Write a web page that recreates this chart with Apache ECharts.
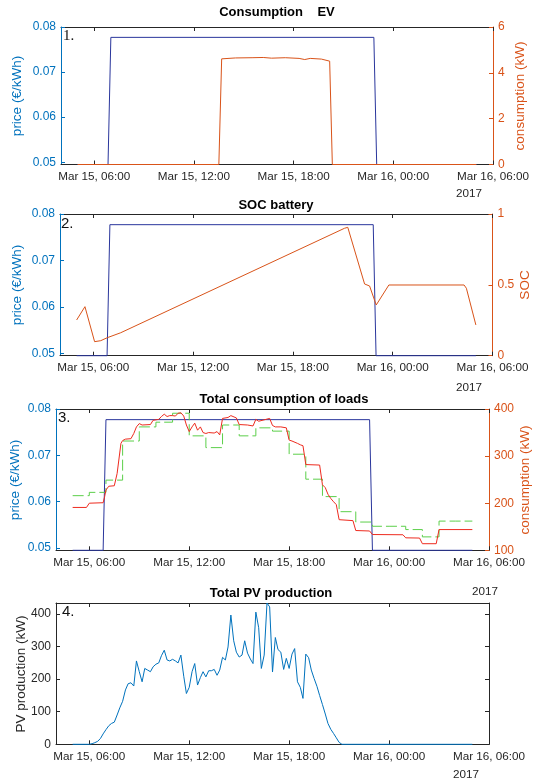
<!DOCTYPE html>
<html><head><meta charset="utf-8">
<script src="https://cdn.jsdelivr.net/npm/echarts@6/dist/echarts.min.js"></script>
<style>html,body{margin:0;padding:0;background:#fff}#c{width:534px;height:782px}</style>
</head><body><div id="c"></div>
<script>
// ---- data (hours counted from Mar 15 00:00) ----
const xTicks = [6, 12, 18, 24, 30];
const priceTicks = [0.05, 0.06, 0.07, 0.08];
const pvTicks = [0, 100, 200, 300, 400];

const priceTimes  = [5, 6.83, 7, 22.83, 23, 29];
const priceValues = [0.0495, 0.0495, 0.0777, 0.0777, 0.0495, 0.0495];

const evTimes  = [5, 13.5, 13.67, 14.5, 15.5, 16.17, 16.67, 17.5, 18.33, 18.67, 19.0, 19.67, 20.17, 20.33, 29];
const evValues = [0, 0, 4.61, 4.65, 4.66, 4.67, 4.64, 4.66, 4.63, 4.58, 4.63, 4.60, 4.51, 0, 0];

const socTimes  = [5, 5.5, 6.08, 6.45, 6.84, 7.65, 21.1, 21.3, 22.31, 22.61, 23.01, 23.77, 28.29, 28.43, 29];
const socValues = [0.252, 0.346, 0.099, 0.106, 0.127, 0.162, 0.899, 0.906, 0.506, 0.492, 0.358, 0.499, 0.499, 0.476, 0.217];

const loadForecastHours  = [5, 6, 7, 8, 9, 10, 11, 12, 13, 14, 15, 16, 17, 18, 19, 20, 21, 22, 23, 24, 25, 26, 27, 28, 29];
const loadForecastValues = [216, 223, 249, 332, 362, 372, 391, 343, 318, 366, 343, 360, 353, 304, 251, 214, 182, 160, 151, 151, 144, 128.5, 162, 162, 162];

const loadTimes  = [5.0, 5.83, 6.0, 6.83, 6.92, 7.0, 7.17, 7.5, 7.67, 7.9, 8.0, 8.17, 8.5, 8.67, 8.83, 9.0, 9.17, 9.67, 9.83, 10.17, 10.33, 10.5, 10.67, 10.83, 11.0, 11.17, 11.33, 11.5, 11.67, 11.83, 12.0, 12.17, 12.33, 12.5, 12.67, 12.83, 13.0, 13.17, 13.5, 13.67, 13.83, 14.0, 14.33, 14.5, 14.83, 15.0, 15.5, 15.83, 16.0, 16.17, 16.5, 16.83, 17.0, 17.17, 17.5, 17.83, 18.0, 18.17, 18.5, 18.67, 18.83, 19.0, 19.83, 20.0, 20.17, 20.33, 20.5, 20.67, 20.83, 21.0, 21.83, 22.0, 22.83, 23.0, 24.83, 25.0, 25.83, 26.0, 26.83, 27.0, 29.0];
const loadValues = [191, 191, 200, 201, 214, 228, 236, 237, 263, 327, 333, 336, 337, 348, 362, 369, 366, 367, 376, 378, 384, 389, 384, 386, 386, 385, 391, 392, 385, 366, 352, 362, 370, 355, 362, 350, 348, 350, 349, 352, 345, 380, 382, 386, 381, 367, 366, 364, 378, 374, 377, 380, 365, 362, 362, 360, 334, 332, 327, 324, 322, 282, 281, 239, 233, 219, 210, 203, 197, 165, 163, 142, 141, 133.5, 133, 126.5, 126, 114, 114, 144, 144];

const pvTimes  = [5.0, 6.0, 6.17, 6.33, 6.5, 6.67, 6.83, 7.0, 7.17, 7.33, 7.5, 7.67, 7.83, 8.0, 8.17, 8.33, 8.5, 8.67, 8.83, 9.0, 9.17, 9.33, 9.5, 9.67, 9.83, 10.0, 10.17, 10.33, 10.5, 10.67, 10.83, 11.0, 11.17, 11.33, 11.5, 11.67, 11.83, 12.0, 12.17, 12.33, 12.5, 12.67, 12.83, 13.0, 13.17, 13.33, 13.5, 13.67, 13.83, 14.0, 14.17, 14.33, 14.5, 14.67, 14.83, 15.0, 15.17, 15.33, 15.5, 15.67, 15.83, 16.0, 16.17, 16.33, 16.5, 16.67, 16.83, 17.0, 17.17, 17.33, 17.5, 17.67, 17.83, 18.0, 18.17, 18.33, 18.5, 18.67, 18.83, 19.0, 19.17, 19.33, 19.5, 19.67, 19.83, 20.0, 20.17, 20.33, 20.5, 20.67, 20.83, 21.0, 21.17, 29.0];
const pvValues = [0, 0, 2, 5, 9, 18, 32, 45, 57, 64, 68, 90, 112, 132, 167, 186, 189, 179, 256, 223, 192, 233, 228, 223, 238, 246, 250, 272, 289, 259, 256, 261, 256, 250, 274, 209, 156, 175, 223, 248, 182, 205, 223, 207, 226, 226, 230, 212, 228, 267, 259, 299, 397, 318, 283, 268, 274, 318, 280, 262, 248, 406, 358, 233, 274, 434, 422, 222, 328, 291, 283, 230, 264, 233, 277, 294, 192, 175, 141, 277, 266, 228, 202, 178, 150, 122, 93, 64, 46, 33, 20, 6, 0, 0];

// ---- helpers ----
const zip = (a, b) => a.map((v, i) => [v, b[i]]);
const FONT = '"Liberation Sans", Arial, sans-serif';
const DARK = '#262626', BLUE = '#0072BD', ORANGE = '#D95319';
const fmtX = v => { const d = 15 + Math.floor(v / 24); const h = v % 24; return 'Mar ' + d + ', ' + String(h).padStart(2, '0') + ':00'; };

const grids = [
  {left: 61, top: 27, width: 432, height: 137.5},
  {left: 60, top: 214, width: 432.5, height: 141.7},
  {left: 56, top: 409, width: 433, height: 141.3},
  {left: 56, top: 603, width: 433, height: 141.3}
];

const xAxes = [];
grids.forEach((g, i) => {
  ['bottom', 'top'].forEach(pos => {
    xAxes.push({
      type: 'value', gridIndex: i, position: pos, min: 4, max: 30,
      axisLine: {show: true, onZero: false, lineStyle: {color: DARK, width: 1}},
      axisTick: {show: true, inside: true, length: 4, customValues: xTicks, lineStyle: {color: DARK}},
      axisLabel: {show: pos === 'bottom', customValues: xTicks, formatter: fmtX, color: DARK, fontSize: 11.7, fontFamily: FONT, margin: 6},
      splitLine: {show: false}
    });
  });
});

function yAx(i, pos, min, max, color, ticks, fmt, showLabel) {
  const o = {
    type: 'value', gridIndex: i, position: pos, min: min, max: max,
    axisLine: {show: true, onZero: false, lineStyle: {color: color, width: 1}},
    axisTick: {show: true, inside: true, length: 4, lineStyle: {color: color}},
    axisLabel: {show: showLabel, color: color, fontSize: 12, fontFamily: FONT, margin: 5},
    splitLine: {show: false}
  };
  if (ticks) { o.axisTick.customValues = ticks; o.axisLabel.customValues = ticks; }
  if (fmt) o.axisLabel.formatter = fmt;
  return o;
}
const yAxes = [
  yAx(0, 'left', 0.0495, 0.08, BLUE, priceTicks, v => v.toFixed(2), true),
  yAx(0, 'right', 0, 6, ORANGE, [0, 2, 4, 6], null, true),
  yAx(1, 'left', 0.0495, 0.08, BLUE, priceTicks, v => v.toFixed(2), true),
  yAx(1, 'right', 0, 1, ORANGE, [0, 0.5, 1], null, true),
  yAx(2, 'left', 0.0495, 0.08, BLUE, priceTicks, v => v.toFixed(2), true),
  yAx(2, 'right', 100, 400, ORANGE, [100, 200, 300, 400], null, true),
  yAx(3, 'left', 0, 434, DARK, pvTicks, null, true),
  yAx(3, 'right', 0, 434, DARK, pvTicks, null, false)
];

const PRICE_C = '#2a369c';
const line = (x, y, data, color, extra) => Object.assign({
  type: 'line', xAxisIndex: x, yAxisIndex: y, data: data, showSymbol: false, symbol: 'none',
  lineStyle: {color: color, width: 1}, silent: true, animation: false, clip: false
}, extra || {});

const series = [
  line(0, 0, zip(priceTimes, priceValues), PRICE_C),
  line(0, 1, zip(evTimes, evValues), ORANGE),
  line(2, 2, zip(priceTimes, priceValues), PRICE_C),
  line(2, 3, zip(socTimes, socValues), ORANGE),
  line(4, 4, zip(priceTimes, priceValues), PRICE_C),
  line(4, 5, zip(loadForecastHours, loadForecastValues), '#5ccf4a', {step: 'end', lineStyle: {color: '#5ccf4a', width: 1, type: [11, 4]}}),
  line(4, 5, zip(loadTimes, loadValues), '#ee2b1f'),
  line(6, 6, zip(pvTimes, pvValues), BLUE)
];

const txt = (x, y, text, opt) => ({
  type: 'text', x: x, y: y, rotation: (opt && opt.rot) || 0, silent: true,
  style: Object.assign({text: text, fill: DARK, font: '11.7px ' + FONT, textAlign: 'center', textVerticalAlign: 'middle'}, (opt && opt.style) || {})
});
const title = (x, y, t) => txt(x, y, t, {style: {fill: '#000', font: 'bold 13px ' + FONT}});
const vname = (x, y, t, c) => txt(x, y, t, {rot: Math.PI / 2, style: {fill: c, font: '13.5px ' + FONT}});
const plabel = (x, y, t, fam) => txt(x, y, t, {style: {fill: '#111', font: '15px ' + fam, textAlign: 'left', textVerticalAlign: 'top'}});

const graphic = [
  title(277, 12, 'Consumption    EV'),
  title(276, 205, 'SOC battery'),
  title(284, 399, 'Total consumption of loads'),
  title(271, 593, 'Total PV production'),
  vname(17, 96, 'price (€/kWh)', BLUE),
  vname(520, 96, 'consumption (kW)', ORANGE),
  vname(17, 285, 'price (€/kWh)', BLUE),
  vname(525, 285, 'SOC', ORANGE),
  vname(15, 480, 'price (€/kWh)', BLUE),
  vname(525, 480, 'consumption (kW)', ORANGE),
  vname(21, 674, 'PV production (kW)', DARK),
  plabel(63, 29, '1.', '"Liberation Serif", serif'),
  plabel(61, 216, '2.', FONT),
  plabel(58, 410, '3.', FONT),
  plabel(62, 604, '4.', FONT),
  txt(469, 194, '2017'),
  txt(469, 388, '2017'),
  txt(485, 592, '2017'),
  txt(466, 775, '2017')
];

const chart = echarts.init(document.getElementById('c'), null, {renderer: 'canvas'});
chart.setOption({
  animation: false,
  backgroundColor: '#fff',
  grid: grids,
  xAxis: xAxes,
  yAxis: yAxes,
  series: series,
  graphic: graphic
});
</script></body></html>
